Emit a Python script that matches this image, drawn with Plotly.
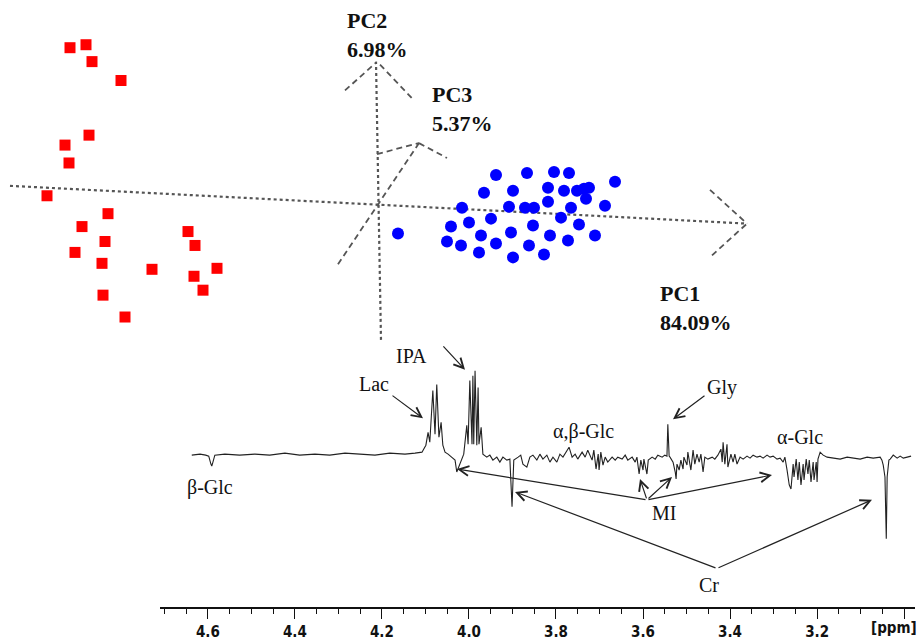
import plotly.graph_objects as go

# ---------------- data ----------------
# 1H NMR loading spectrum (chemical shift in ppm, relative intensity)
ppm = [4.637, 4.618, 4.605, 4.598, 4.593, 4.591, 4.589, 4.584, 4.561, 4.527, 4.492, 4.458, 4.423, 4.389, 4.354, 4.320, 4.285, 4.251, 4.216, 4.182, 4.147, 4.124, 4.108,
       4.099, 4.094, 4.090, 4.083, 4.078, 4.074, 4.069, 4.064, 4.060, 4.055, 4.048, 4.039, 4.032, 4.028, 4.021, 4.012,
       4.005, 4.002, 3.998, 3.993, 3.991, 3.989, 3.986, 3.982, 3.979, 3.977, 3.972, 3.968, 3.959, 3.952, 3.945, 3.936, 3.929, 3.922, 3.913, 3.906,
       3.901, 3.897, 3.887, 3.881, 3.876, 3.867, 3.860, 3.853, 3.844, 3.837, 3.830, 3.821, 3.814, 3.807, 3.798, 3.791, 3.784, 3.775, 3.770, 3.763,
       3.756, 3.750, 3.740, 3.733, 3.727, 3.717, 3.713, 3.708, 3.703, 3.701, 3.697, 3.692, 3.687, 3.681, 3.671, 3.664, 3.658, 3.648, 3.641, 3.635,
       3.625, 3.618, 3.614, 3.609, 3.605, 3.600, 3.598, 3.591, 3.588, 3.579, 3.572, 3.566, 3.556, 3.550, 3.545,
       3.543, 3.540, 3.538, 3.531, 3.526, 3.524, 3.522, 3.517, 3.513, 3.508, 3.506, 3.499, 3.497, 3.490, 3.485, 3.481, 3.476, 3.471, 3.467, 3.462,
       3.458, 3.451, 3.441, 3.435, 3.428, 3.421, 3.418, 3.416, 3.412, 3.407, 3.405, 3.398, 3.393, 3.389, 3.384, 3.377, 3.370, 3.361, 3.354, 3.347,
       3.338, 3.331, 3.324, 3.315, 3.308, 3.301, 3.292, 3.285,
       3.278, 3.274, 3.269, 3.264, 3.260, 3.255, 3.253, 3.248, 3.244, 3.241, 3.237, 3.232, 3.230, 3.225, 3.221, 3.218, 3.214, 3.209, 3.207, 3.202,
       3.200, 3.198, 3.193, 3.186, 3.177, 3.163, 3.147, 3.131, 3.117, 3.101, 3.085, 3.071, 3.055, 3.051, 3.048, 3.044, 3.041, 3.039, 3.035, 3.032,
       3.025, 3.016, 3.009, 3.002, 2.993, 2.984]
intensity = [2, 3, 2, 1, -7, -9, -6, 2, 3, 2, 3, 2, 4, 2, 3, 2, 4, 3, 2, 4, 3, 4, 5,
             12, 25, 15, 67, 23, 73, 20, 35, 12, 5, 3, 0, -3, -15, -7, 3,
             32, 13, 77, 13, 82, 13, 87, 12, 70, 13, 30, 3, 0, 2, -3, 0, -5, 0, -3, -2,
             -50, -3, 0, 2, -7, -10, 0, 2, -3, 3, -2, 2, -5, 0, -5, 3, 0, 7, 10, 0,
             3, -2, 5, 0, 7, -3, 7, -12, 3, -13, 5, -8, 0, -5, 0, -3, 0, -2, 2, -3,
             0, -5, 0, -17, -3, -13, -2, -17, -3, 0, -2, 2, 0, 2, 1,
             33, 1, 0, -5, -15, -22, -7, -13, -3, -12, 0, -8, 5, -13, 7, -7, 3, -5, 3, -15,
             0, -2, 0, -2, 2, 8, -5, 15, -7, 13, -10, 3, -5, 3, -7, 0, -2, 1, -1, 2,
             0, 1, -1, 2, 0, 1, -2, -1,
             -5, 0, -13, -28, -32, -7, -20, -2, -23, -5, -28, -7, -23, -2, -17, -3, -25, -5, -23, -5,
             -25, -2, 5, 2, 0, -1, -2, 0, -1, -2, 0, -1, 0, -3, -8, -20, -82, -20, -3, -2,
             2, -1, 1, -1, 0, 1]

# PCA scores (projected 3-D score plot, arbitrary projected units)
red_x = [70, 86, 92, 121, 89, 65, 69, 47, 108, 82, 105, 75, 102, 152, 188, 195, 217, 194, 203, 103, 125]
red_y = [48, 45, 62, 81, 136, 146, 164, 197, 215, 228, 243, 254, 265, 271, 233, 247, 270, 278, 292, 297, 319]
blue_x = [496, 527, 554, 569, 615, 484, 513, 548, 564, 577, 584, 589, 586, 462, 509, 525, 534, 548, 571, 605,
          491, 469, 451, 533, 561, 579, 398, 511, 481, 550, 595, 447, 461, 496, 529, 568, 479, 513, 544]
blue_y = [176, 174, 173, 174, 183, 194, 192, 189, 192, 192, 190, 189, 200, 209, 208, 209, 209, 203, 209, 207,
          220, 224, 228, 227, 219, 226, 235, 234, 237, 237, 237, 243, 247, 245, 247, 242, 254, 259, 256]

# PC axis labels
pc_names = ["PC1<br>84.09%", "PC2<br>6.98%", "PC3<br>5.37%"]

# tick labels of the ppm axis
tick_vals = [4.6, 4.4, 4.2, 4.0, 3.8, 3.6, 3.4, 3.2, 3.0]
tick_text = ["4.6", "4.4", "4.2", "4.0", "3.8", "3.6", "3.4", "3.2", ""]
unit_label = "[ppm]"

W, H = 919, 641
SERIF = "Liberation Serif, Times New Roman, serif"
NARROW = "Liberation Sans Narrow, Arial Narrow, DejaVu Sans Condensed, sans-serif"
GRAY = "#555555"

fig = go.Figure()

# spectrum
fig.add_trace(go.Scatter(x=ppm, y=intensity, mode="lines",
                         line=dict(color="#222222", width=1.1),
                         xaxis="x", yaxis="y", showlegend=False, hoverinfo="skip"))

# scores
fig.add_trace(go.Scatter(x=red_x, y=red_y, mode="markers",
                         marker=dict(symbol="square", size=11, color="#FF0000"),
                         xaxis="x2", yaxis="y2", showlegend=False))
fig.add_trace(go.Scatter(x=blue_x, y=blue_y, mode="markers",
                         marker=dict(symbol="circle", size=12, color="#0000FF"),
                         xaxis="x2", yaxis="y2", showlegend=False))

shapes = []
def seg(x0, y0, x1, y1, dash, width=2.0):
    shapes.append(dict(type="line", xref="x2", yref="y2", x0=x0, y0=y0, x1=x1, y1=y1,
                       line=dict(color=GRAY, width=width, dash=dash), layer="below"))

# PC1
seg(10, 187, 747, 225, "dot", 2.2)
seg(710, 191, 747, 225, "6px,4px", 1.8)
seg(712, 257, 747, 225, "6px,4px", 1.8)
# PC2
seg(381, 342, 376, 62, "dot", 2.2)
seg(345, 91, 376, 63, "6px,4px", 1.8)
seg(380, 65, 412, 99, "6px,4px", 1.8)
# PC3
seg(338, 266, 419, 144, "6px,4px", 1.8)
seg(377, 155, 419, 144, "6px,4px", 1.8)
seg(419, 144, 447, 159, "6px,4px", 1.8)

annotations = []
def label(text, x, y, size=20, bold=False, xanchor="center"):
    annotations.append(dict(text=("<b>%s</b>" % text) if bold else text, x=x, y=y,
                            xref="x2", yref="y2", showarrow=False, xanchor=xanchor,
                            yanchor="middle", align="left",
                            font=dict(family=SERIF, size=size, color="#111111")))

def arrow(x0, y0, x1, y1):
    annotations.append(dict(text="", x=x1, y=y1, ax=x0, ay=y0, xref="x2", yref="y2",
                            axref="x2", ayref="y2", showarrow=True, arrowhead=5,
                            arrowsize=1.6, arrowwidth=1.2, arrowcolor="#222222",
                            standoff=0, startstandoff=0))

# PC labels
label(pc_names[1], 345, 35, size=22, bold=True, xanchor="left")
label(pc_names[2], 430, 110, size=22, bold=True, xanchor="left")
label(pc_names[0], 658, 310, size=22, bold=True, xanchor="left")

# metabolite labels
label("IPA", 411, 358)
label("Lac", 374, 386)
label("Gly", 722, 390)
label("α,β-Glc", 583, 434)
label("α-Glc", 800, 440)
label("β-Glc", 210, 491)
label("MI", 664, 516)
label("Cr", 709, 589)

arrow(442, 347, 465, 372)    # IPA
arrow(391, 397, 423, 421)    # Lac
arrow(706, 397, 673, 422)    # Gly
arrow(647, 503, 457, 472)    # MI
arrow(647, 503, 640, 482)
arrow(647, 503, 672, 480)
arrow(647, 503, 772, 478)
arrow(717, 572, 515, 495)    # Cr
arrow(717, 572, 872, 503)

# unit label at the right end of the ppm axis
annotations.append(dict(text=unit_label, x=919, y=632, xref="x2", yref="y2",
                        showarrow=False, xanchor="right", yanchor="middle",
                        font=dict(family=NARROW, size=15, color="#111111", weight="bold")))

# spectrum axes placement (pixels -> paper)
x_left_px, x_right_px = 160, 915
y_axis_px, y_top_px = 611, 340

fig.update_layout(
    width=W, height=H,
    margin=dict(l=0, r=0, t=0, b=0),
    paper_bgcolor="white", plot_bgcolor="rgba(0,0,0,0)",
    showlegend=False,
    xaxis=dict(domain=[x_left_px / W, x_right_px / W], range=[4.710, 2.975],
               anchor="y", showgrid=False, zeroline=False,
               showline=True, linecolor="#111111", linewidth=1.5,
               tickmode="array", tickvals=tick_vals, ticktext=tick_text,
               ticks="outside", ticklen=10, tickwidth=1.2, tickcolor="#111111",
               tickfont=dict(family=NARROW, size=15, color="#111111", weight="bold"),
               minor=dict(tickmode="linear", tick0=3.0, dtick=0.05, ticks="outside",
                          ticklen=5, tickwidth=1.0, tickcolor="#111111", showgrid=False)),
    yaxis=dict(domain=[(H - y_axis_px) / H, (H - y_top_px) / H],
               range=[460 - y_axis_px, 460 - y_top_px],
               visible=False, anchor="x", fixedrange=True),
    xaxis2=dict(domain=[0, 1], range=[0, W], visible=False, anchor="y2"),
    yaxis2=dict(domain=[0, 1], range=[H, 0], visible=False, anchor="x2"),
    shapes=shapes,
    annotations=annotations,
)

fig.write_html("out.html")
